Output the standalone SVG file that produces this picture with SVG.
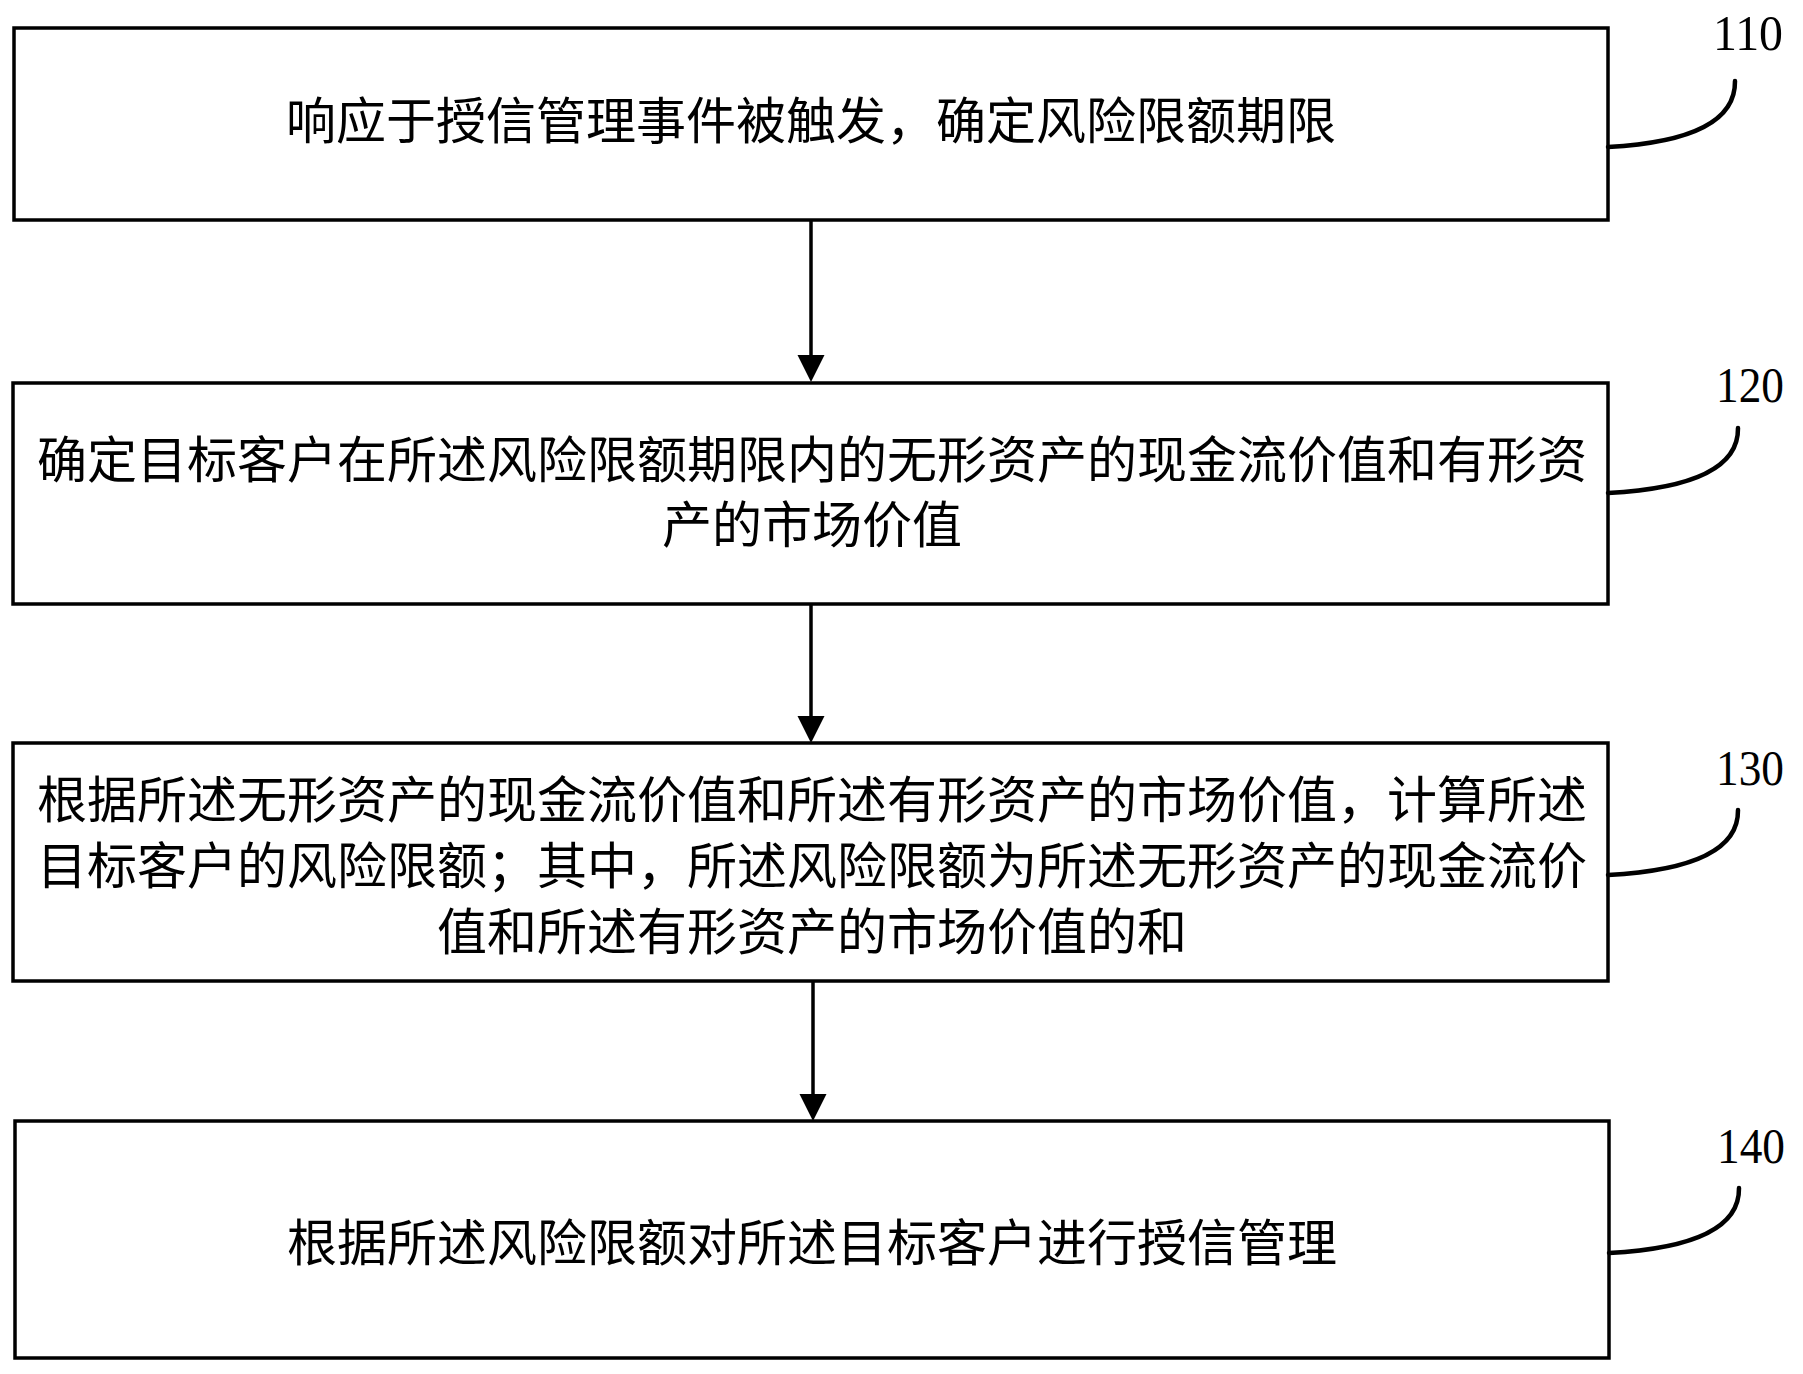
<svg xmlns="http://www.w3.org/2000/svg" width="1803" height="1374" viewBox="0 0 1803 1374">
<style>
.box{fill:#fff;stroke:#000;stroke-width:3.5}
.t{font-family:"Noto Sans CJK SC","Noto Sans CJK JP",sans-serif;font-size:50px;fill:#000;text-anchor:middle}
.n{font-family:"Liberation Serif","Times New Roman",serif;font-size:50px;fill:#000}
.lead{fill:none;stroke:#000;stroke-width:4.5;stroke-linecap:round}
.conn{stroke:#000;stroke-width:3.5;fill:none}
.head{fill:#000}
</style>
<rect width="1803" height="1374" fill="#fff"/>
<g id="connectors">
<line class="conn" x1="811" y1="220" x2="811" y2="358"/>
<polygon class="head" points="797.5,355 824.5,355 811,382"/>
<line class="conn" x1="811" y1="604" x2="811" y2="719"/>
<polygon class="head" points="797.5,716 824.5,716 811,743"/>
<line class="conn" x1="813" y1="981" x2="813" y2="1097"/>
<polygon class="head" points="799.5,1094 826.5,1094 813,1121"/>
</g>
<g id="node110">
<rect class="box" x="14" y="28" width="1594" height="192"/>
<text class="t" x="811" y="139">响应于授信管理事件被触发，确定风险限额期限</text>
<path class="lead" d="M1608,147 Q1736,140 1735,81"/>
<text class="n" x="1713" y="50" textLength="70" lengthAdjust="spacingAndGlyphs">110</text>
</g>
<g id="node120">
<rect class="box" x="13" y="383" width="1595" height="221"/>
<text class="t" x="812" y="478">确定目标客户在所述风险限额期限内的无形资产的现金流价值和有形资</text>
<text class="t" x="812" y="543">产的市场价值</text>
<path class="lead" d="M1608,493 Q1739,486 1738,428"/>
<text class="n" x="1716" y="402" textLength="68" lengthAdjust="spacingAndGlyphs">120</text>
</g>
<g id="node130">
<rect class="box" x="13" y="743" width="1595" height="238"/>
<text class="t" x="812" y="818">根据所述无形资产的现金流价值和所述有形资产的市场价值，计算所述</text>
<text class="t" x="812" y="884">目标客户的风险限额；其中，所述风险限额为所述无形资产的现金流价</text>
<text class="t" x="812" y="950">值和所述有形资产的市场价值的和</text>
<path class="lead" d="M1608,875 Q1739,868 1738,810"/>
<text class="n" x="1716" y="785" textLength="68" lengthAdjust="spacingAndGlyphs">130</text>
</g>
<g id="node140">
<rect class="box" x="15" y="1121" width="1594" height="237"/>
<text class="t" x="812" y="1261">根据所述风险限额对所述目标客户进行授信管理</text>
<path class="lead" d="M1609,1253 Q1740,1246 1739,1188"/>
<text class="n" x="1717" y="1163" textLength="68" lengthAdjust="spacingAndGlyphs">140</text>
</g>
</svg>
